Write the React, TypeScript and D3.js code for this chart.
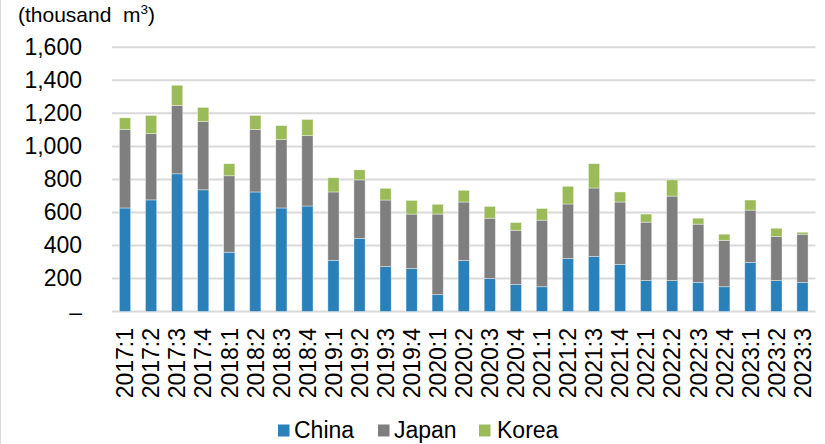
import React from "react";
import * as d3 from "d3";

const categories = [
  "2017:1","2017:2","2017:3","2017:4",
  "2018:1","2018:2","2018:3","2018:4",
  "2019:1","2019:2","2019:3","2019:4",
  "2020:1","2020:2","2020:3","2020:4",
  "2021:1","2021:2","2021:3","2021:4",
  "2022:1","2022:2","2022:3","2022:4",
  "2023:1","2023:2","2023:3",
];
const china = [627,676,834,737, 359,724,627,639, 310,443,272,260, 102,309,199,163, 150,321,333,285, 187,187,175,150, 297,187,175];
const japan = [475,401,414,413, 463,378,414,426, 414,354,403,330, 488,354,366,329, 403,330,415,378, 354,512,354,281, 317,268,293];
const korea = [71,110,122,86, 73,85,85,98, 86,61,71,83, 59,71,71,47, 71,107,147,61, 49,98,36,37, 61,49,12];
const seriesNames = ["China", "Japan", "Korea"];
const seriesColors = ["#2a80b9", "#7f7f7f", "#9bbb59"];
const yTicks = [0, 200, 400, 600, 800, 1000, 1200, 1400, 1600];

const W = 825, H = 444;
const plotLeft = 112, plotRight = 815.5, plotTop = 47.3, plotBottom = 311.5;
const FONT = "'Liberation Sans', Arial, sans-serif";

export default function App() {
  const x = d3.scaleBand<string>().domain(categories).range([plotLeft, plotRight]).paddingInner(0.57).paddingOuter(0.285);
  const y = d3.scaleLinear().domain([0, 1600]).range([plotBottom, plotTop]);
  const rows = categories.map((c, i) => ({ cat: c, China: china[i], Japan: japan[i], Korea: korea[i] }));
  const stack = d3.stack<any>().keys(seriesNames)(rows);
  const fmt = d3.format(",");

  const legendItems = [
    { name: "China", sx: 278, tx: 294 },
    { name: "Japan", sx: 378, tx: 394 },
    { name: "Korea", sx: 479, tx: 497 },
  ];

  return (
    <div style={{ position: "fixed", left: 0, top: 0 }}>
      <svg width={W} height={H} style={{ display: "block", background: "#fff" }} fontFamily={FONT}>
        <line x1={0.5} x2={0.5} y1={0} y2={H} stroke="#d9d9d9" strokeWidth={1} />
        {/* title */}
        <text x={18} y={22} fontSize={21} fill="#000" style={{ whiteSpace: "pre" }}>
          {"(thousand  m"}<tspan fontSize={13.5} dy={-8}>3</tspan><tspan dy={8}>)</tspan>
        </text>
        {/* gridlines */}
        {yTicks.map((t) => (
          <line key={t} x1={plotLeft} x2={plotRight} y1={y(t)} y2={y(t)} stroke="#d9d9d9" strokeWidth={2} />
        ))}
        {/* y labels */}
        {yTicks.map((t) => (
          <text key={"l" + t} x={82} y={y(t) + 8} textAnchor="end" fontSize={23} fill="#000">
            {t === 0 ? "–" : fmt(t)}
          </text>
        ))}
        {/* bars */}
        {stack.map((s, si) => (
          <g key={s.key} fill={seriesColors[si]}>
            {s.map((d, i) => (
              <rect
                key={i}
                x={x(categories[i])!}
                width={x.bandwidth()}
                y={y(d[1])}
                height={Math.max(0, y(d[0]) - y(d[1]))}
                stroke="#ffffff"
                strokeOpacity={0.5}
                strokeWidth={0.75}
              />
            ))}
          </g>
        ))}
        {/* x labels */}
        {categories.map((c) => {
          const cx = x(c)! + x.bandwidth() / 2;
          return (
            <text key={c} transform={`translate(${cx + 8.3},328) rotate(-90)`} textAnchor="end" fontSize={23} fill="#000">
              {c}
            </text>
          );
        })}
        {/* legend */}
        {legendItems.map((l, i) => (
          <g key={l.name}>
            <rect x={l.sx} y={424.5} width={11.5} height={12} fill={seriesColors[i]} />
            <text x={l.tx} y={438} fontSize={23} fill="#000">{l.name}</text>
          </g>
        ))}
      </svg>
    </div>
  );
}
